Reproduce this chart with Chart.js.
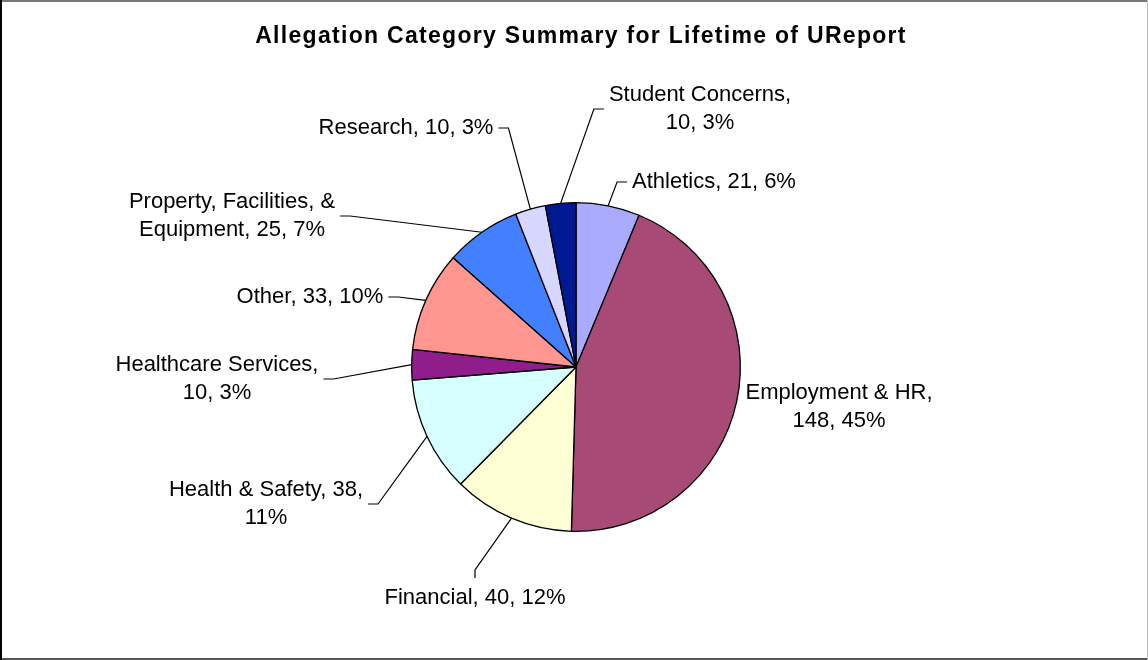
<!DOCTYPE html>
<html lang="en">
<head>
    <meta charset="UTF-8">
    <title>Allegation Category Summary for Lifetime of UReport</title>
    <script src="https://cdn.jsdelivr.net/npm/chart.js"></script>
    <style>
        body { margin: 0; background: #fff; }
        #wrap { width: 1148px; height: 660px; }
    </style>
</head>
<body>
    <div id="wrap"><canvas id="pie" width="1148" height="660"></canvas></div>

    <script>
        // data
        const titleText = "Allegation Category Summary for Lifetime of UReport";
        const categories = ["Athletics", "Employment & HR", "Financial", "Health & Safety", "Healthcare Services",
                            "Other", "Property, Facilities, & Equipment", "Research", "Student Concerns"];
        const counts = [21, 148, 40, 38, 10, 33, 25, 10, 10];
        const percents = [6, 45, 12, 11, 3, 10, 7, 3, 3]; // as printed on the chart
        const sliceColors = ["#aaaaff", "#a84a76", "#ffffd6", "#d6ffff", "#8f1e8c",
                             "#ff968f", "#4380ff", "#d6d6ff", "#001991"];

        // label placement (text block centre, relative to pie centre)
        const labelOffsets = [[138, -185], [263, 40], [-101, 231], [-310, 137], [-359, 12],
                              [-266, -70], [-344, -151], [-170, -239], [124, -258]];

        const labelFont = '22px "Liberation Sans", Arial, sans-serif';
        const lineH = 28;
        const wrapW = 214;

        function wrapText(ctx, text) {
            const words = text.split(' ');
            const lines = [];
            let cur = '';
            words.forEach(w => {
                const t = cur ? cur + ' ' + w : w;
                if (cur && ctx.measureText(t).width > wrapW) { lines.push(cur); cur = w; }
                else cur = t;
            });
            if (cur) lines.push(cur);
            return lines;
        }

        const excelLabels = {
            id: 'excelLabels',
            afterDraw(chart) {
                const ctx = chart.ctx;
                const W = chart.width, H = chart.height;
                ctx.save();

                // frame
                ctx.fillStyle = '#777'; ctx.fillRect(0, 0, W, 2);
                ctx.fillStyle = '#555'; ctx.fillRect(0, H - 2, W, 2);
                ctx.fillStyle = '#bbb'; ctx.fillRect(W - 1, 0, 1, H);
                ctx.fillStyle = '#000'; ctx.fillRect(0, 0, 2, H);

                // title
                ctx.fillStyle = '#000';
                ctx.font = 'bold 23px "Liberation Sans", Arial, sans-serif';
                ctx.letterSpacing = '1.3px';
                ctx.textAlign = 'center';
                ctx.textBaseline = 'middle';
                ctx.fillText(titleText, 581, 37);

                // data labels with leader lines
                ctx.font = labelFont;
                ctx.letterSpacing = '0px';
                const arcs = chart.getDatasetMeta(0).data;
                arcs.forEach((arc, i) => {
                    const mid = (arc.startAngle + arc.endAngle) / 2;
                    const px = arc.x + Math.cos(mid) * arc.outerRadius;
                    const py = arc.y + Math.sin(mid) * arc.outerRadius;
                    const lx = arc.x + labelOffsets[i][0];
                    const ly = arc.y + labelOffsets[i][1];
                    const lines = wrapText(ctx, `${categories[i]}, ${counts[i]}, ${percents[i]}%`);
                    const bw = Math.max(...lines.map(l => ctx.measureText(l).width));
                    const bh = lines.length * lineH;
                    const left = lx - bw / 2, right = lx + bw / 2, top = ly - bh / 2;

                    ctx.fillStyle = '#000';
                    lines.forEach((l, k) => ctx.fillText(l, lx, top + lineH / 2 + k * lineH));

                    // leader
                    let ax, ay, ex, ey;
                    if (px > left && px < right) {
                        ax = lx; ay = top - 6; ex = ax; ey = ay - 8;
                    } else if (px <= left) {
                        ax = left - 5; ay = ly; ex = ax - 10; ey = ay;
                    } else {
                        ax = right + 5; ay = ly; ex = ax + 10; ey = ay;
                    }
                    if (Math.hypot(ax - px, ay - py) < 20) return;
                    ctx.strokeStyle = '#000';
                    ctx.lineWidth = 1.2;
                    ctx.beginPath();
                    ctx.moveTo(px, py);
                    ctx.lineTo(ex, ey);
                    ctx.lineTo(ax, ay);
                    ctx.stroke();
                });
                ctx.restore();
            }
        };

        new Chart(document.getElementById('pie'), {
            type: 'pie',
            data: {
                labels: categories,
                datasets: [{
                    data: counts,
                    backgroundColor: sliceColors,
                    borderColor: '#000',
                    borderWidth: 1.3
                }]
            },
            options: {
                responsive: false,
                animation: false,
                devicePixelRatio: 1,
                layout: { padding: { top: 202, bottom: 128, left: 300, right: 296 } },
                plugins: {
                    legend: { display: false },
                    tooltip: { enabled: false },
                    title: { display: false }
                }
            },
            plugins: [excelLabels]
        });
    </script>
</body>
</html>
